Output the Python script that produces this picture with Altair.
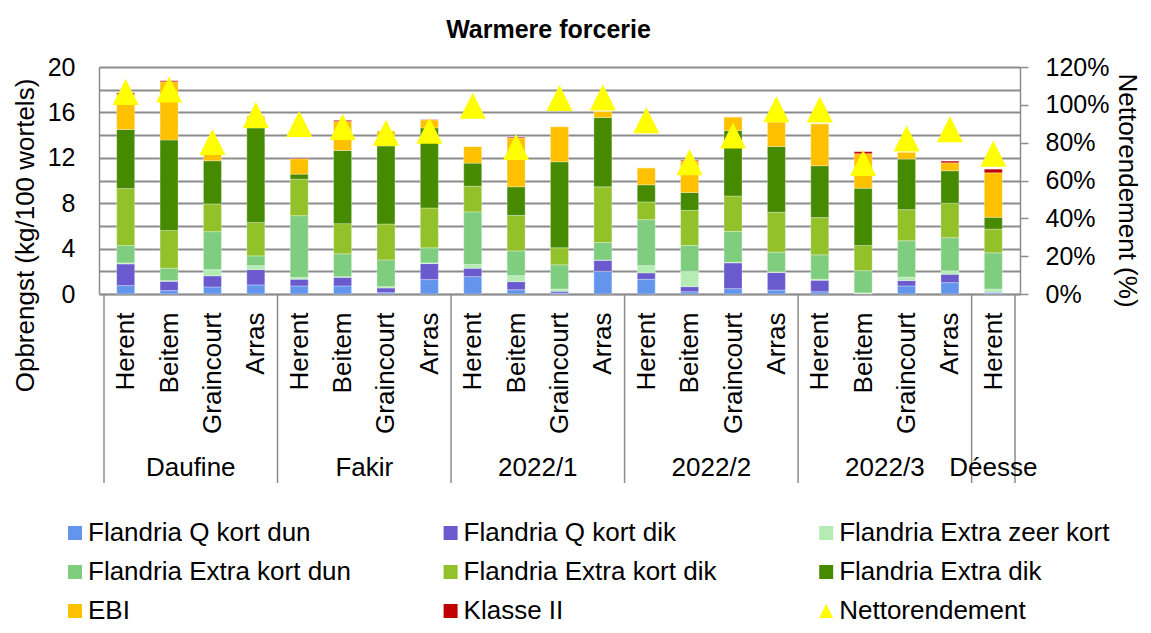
import json
import altair as alt
import pandas as pd

FONT = "Liberation Sans, Arial, sans-serif"
GRID = "#8c8c8c"

groups = ["Daufine"] * 4 + ["Fakir"] * 4 + ["2022/1"] * 4 + ["2022/2"] * 4 + ["2022/3"] * 4 + ["Déesse"]
locations = ["Herent", "Beitem", "Graincourt", "Arras"] * 5 + ["Herent"]

series_names = [
    "Flandria Q kort dun", "Flandria Q kort dik", "Flandria Extra zeer kort",
    "Flandria Extra kort dun", "Flandria Extra kort dik", "Flandria Extra dik",
    "EBI", "Klasse II", "Nettorendement",
]
series_colors = ["#6495ED", "#6A5ACD", "#B4ECB4", "#7FCE7F", "#92C12A", "#468A00",
                 "#FFC000", "#C00000", "#FFFF00"]

q_kort_dun      = [0.74, 0.30, 0.62, 0.80, 0.71, 0.71, 0.12, 1.27, 1.53, 0.38, 0.09, 2.00, 1.30, 0.20, 0.47, 0.35, 0.20, 0.05, 0.71, 1.00, 0.09]
q_kort_dik      = [1.91, 0.82, 0.98, 1.35, 0.59, 0.76, 0.41, 1.41, 0.74, 0.71, 0.15, 0.98, 0.56, 0.45, 2.27, 1.54, 1.01, 0.00, 0.47, 0.74, 0.06]
extra_zeer_kort = [0.09, 0.06, 0.55, 0.35, 0.15, 0.06, 0.12, 0.06, 0.33, 0.53, 0.20, 0.02, 0.64, 1.35, 0.06, 0.06, 0.09, 0.05, 0.32, 0.30, 0.29]
extra_kort_dun  = [1.54, 1.09, 3.34, 0.86, 5.45, 2.01, 2.35, 1.33, 4.63, 2.18, 2.13, 1.54, 4.05, 2.28, 2.72, 1.74, 2.15, 1.96, 3.19, 2.92, 3.19]
extra_kort_dik  = [5.01, 3.33, 2.45, 2.95, 3.22, 2.66, 3.17, 3.51, 2.27, 3.13, 1.50, 4.90, 1.56, 3.09, 3.12, 3.51, 3.28, 2.22, 2.74, 3.04, 2.09]
extra_dik       = [5.21, 7.97, 3.80, 8.32, 0.44, 6.45, 6.87, 7.05, 2.03, 2.51, 7.58, 6.11, 1.51, 1.57, 5.76, 5.80, 4.57, 5.04, 4.46, 2.86, 1.04]
ebi             = [3.10, 5.13, 0.76, 0.97, 1.36, 2.55, 1.33, 0.71, 1.47, 4.31, 3.10, 0.55, 1.50, 2.76, 1.20, 2.16, 3.70, 3.04, 0.61, 0.70, 3.92]
klasse_ii       = [0.12, 0.09, 0.05, 0.03, 0.06, 0.10, 0.00, 0.03, 0.00, 0.07, 0.00, 0.00, 0.00, 0.08, 0.00, 0.00, 0.00, 0.18, 0.00, 0.15, 0.32]
nettorendement  = [1.068, 1.081, 0.803, 0.946, 0.899, 0.883, 0.853, 0.863, 0.995, 0.777, 1.036, 1.039,
                   0.918, 0.697, 0.838, 0.977, 0.975, 0.693, 0.822, 0.871, 0.741]

left_ticks = list(range(0, 21, 2))
right_ticks = [0, 0.2, 0.4, 0.6, 0.8, 1.0, 1.2]

stack_series = [q_kort_dun, q_kort_dik, extra_zeer_kort, extra_kort_dun,
                extra_kort_dik, extra_dik, ebi, klasse_ii]

n = len(locations)
rows = []
for i in range(n):
    for k, vals in enumerate(stack_series):
        rows.append({"pos": i + 0.5, "series": series_names[k], "k": k, "value": vals[i]})
df_bars = pd.DataFrame(rows)

df_pts = pd.DataFrame({"pos": [i + 0.5 for i in range(n)],
                       "netto": nettorendement,
                       "series": ["Nettorendement"] * n})

# group boundaries and centres
bounds = [0]
for i in range(1, n):
    if groups[i] != groups[i - 1]:
        bounds.append(i)
bounds.append(n)
df_b = pd.DataFrame({"b": bounds})
glab = []
for a, b in zip(bounds[:-1], bounds[1:]):
    glab.append({"c": (a + b) / 2, "group": groups[a]})
df_g = pd.DataFrame(glab)

W, H = 921, 227

xscale = alt.Scale(domain=[0, n], nice=False, zero=False)
label_expr = json.dumps(locations) + "[floor(datum.value)]"
xaxis = alt.Axis(values=[i + 0.5 for i in range(n)], labelExpr=label_expr, title=None,
                 grid=False, ticks=False, labelAngle=270, labelAlign="right",
                 labelBaseline="middle", labelPadding=18, labelFontSize=26,
                 labelFlush=False, labelOverlap=False, labelBound=False,
                 domainColor=GRID, domainWidth=1.5)

yaxis_left = alt.Axis(values=left_ticks, grid=True, gridColor=GRID, gridWidth=2,
                      ticks=False, tickSize=0, labelPadding=24, labelFontSize=25,
                      domainColor=GRID, domainWidth=1.5,
                      title="Opbrengst (kg/100 wortels)", titleFontSize=26,
                      titleFontWeight="normal", titleAngle=270, titleX=-74, titleY=168,
                      titleAlign="center", titleBaseline="middle")

yaxis_right = alt.Axis(values=right_ticks, format=".0%", orient="right", grid=False,
                       ticks=True, tickSize=8, tickWidth=1.5, tickColor=GRID,
                       labelPadding=17, labelFontSize=25, labelAlign="left",
                       domainColor=GRID, domainWidth=1.5,
                       title="Nettorendement (%)", titleFontSize=26,
                       titleFontWeight="normal", titleAngle=90, titleX=106, titleY=123,
                       titleAlign="center", titleBaseline="middle")

color_scale = alt.Scale(domain=series_names, range=series_colors)
shape_scale = alt.Scale(domain=series_names,
                        range=["square"] * 8 + ["M0,-1L1,1L-1,1Z"])


def make_legend():
    return alt.Legend(title=None, orient="none", legendX=-37, legendY=453, columns=3,
                      direction="horizontal", gridAlign="all", columnPadding=78.6,
                      rowPadding=13, labelFontSize=26, labelFont=FONT, labelColor="black",
                      labelOffset=0, labelLimit=400, symbolSize=196,
                      symbolStrokeWidth=0, symbolOpacity=1, padding=0)


rules = alt.Chart(df_b).mark_rule(color=GRID, strokeWidth=1.5).encode(
    x=alt.X("b:Q", scale=xscale, axis=xaxis),
    y=alt.value(H),
    y2=alt.value(H + 189),
)

bars = alt.Chart(df_bars).mark_bar(size=18, stroke="white", strokeWidth=0.5,
                                   strokeOpacity=0.6).encode(
    x=alt.X("pos:Q", scale=xscale, axis=xaxis),
    y=alt.Y("value:Q", stack="zero", scale=alt.Scale(domain=[0, 20], nice=False),
            axis=yaxis_left),
    color=alt.Color("series:N", scale=color_scale, legend=make_legend()),
    order=alt.Order("k:Q"),
)

points = alt.Chart(df_pts).mark_point(filled=True, opacity=1, size=676,
                                      strokeWidth=0).encode(
    x=alt.X("pos:Q", scale=xscale, axis=xaxis),
    y=alt.Y("netto:Q", scale=alt.Scale(domain=[0, 1.2], nice=False), axis=yaxis_right),
    color=alt.Color("series:N", scale=color_scale, legend=make_legend()),
    shape=alt.Shape("series:N", scale=shape_scale, legend=make_legend()),
)

glabels = alt.Chart(df_g).mark_text(fontSize=26, font=FONT, color="black",
                                    baseline="middle").encode(
    x=alt.X("c:Q", scale=xscale, axis=xaxis),
    y=alt.value(401),
    text="group:N",
)

chart = alt.layer(rules, bars, points, glabels).resolve_scale(
    y="independent"
).properties(
    width=W, height=H,
    title=alt.TitleParams("Warmere forcerie", fontSize=25, fontWeight="bold", font=FONT,
                          color="black", anchor="middle", dx=-11, offset=12),
    padding={"left": 91, "top": 59, "right": 123, "bottom": 331},
    autosize=alt.AutoSizeParams(type="none"),
).configure_view(stroke=None).configure_axis(
    labelFont=FONT, titleFont=FONT, labelColor="black", titleColor="black"
)

chart.save("out.html", embed_options={"renderer": "svg", "actions": False})
